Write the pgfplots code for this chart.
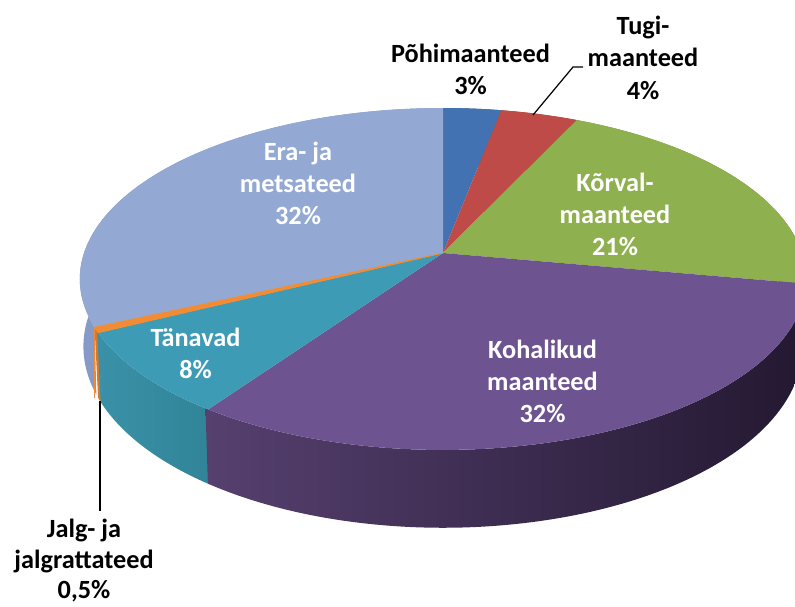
\documentclass[border=0pt]{standalone}
\usepackage{fontspec}
\setmainfont{Carlito}
\usepackage{pgfplots}
\usepackage{pgfplotstable}
\pgfplotsset{compat=1.18}

\pgfplotstableread{
name value
Pohimaanteed 3
Tugimaanteed 4
Korvalmaanteed 21
Kohalikud 32
Tanavad 8
Jalg 0.5
Era 32
}\datatable

\newcommand\getv[2]{\pgfplotstablegetelem{#1}{value}\of\datatable\edef#2{\pgfplotsretval}}%
\getv{0}\vA\getv{1}\vB\getv{2}\vC\getv{3}\vD\getv{4}\vE\getv{5}\vF\getv{6}\vG%
\pgfmathsetmacro\total{\vA+\vB+\vC+\vD+\vE+\vF+\vG}%
\pgfmathsetmacro\tA{90}%
\pgfmathsetmacro\tB{\tA-360*\vA/\total}%
\pgfmathsetmacro\tC{\tB-360*\vB/\total}%
\pgfmathsetmacro\tD{\tC-360*\vC/\total}%
\pgfmathsetmacro\tE{\tD-360*\vD/\total}%
\pgfmathsetmacro\tF{\tE-360*\vE/\total}%
\pgfmathsetmacro\tG{\tF-360*\vF/\total}%
\pgfmathsetmacro\tH{\tG-360*\vG/\total}%
\pgfmathsetmacro\tEx{\tE-0.5}%
\pgfmathsetmacro\tFx{\tF-0.5}%

\definecolor{pohi}{HTML}{4272B2}
\definecolor{tugi}{HTML}{BF4B48}
\definecolor{korval}{HTML}{8FB04E}
\definecolor{kohal}{HTML}{6E5391}
\definecolor{tanav}{HTML}{3D9BB6}
\definecolor{jalg}{HTML}{F28C34}
\definecolor{era}{HTML}{93A9D3}
\definecolor{pohiW}{HTML}{2F5586}
\definecolor{tugiW}{HTML}{8F3532}
\definecolor{korvalW}{HTML}{6A8438}
\definecolor{kohalWL}{HTML}{56406F}
\definecolor{kohalWR}{HTML}{231831}
\definecolor{tanavWL}{HTML}{3A91A7}
\definecolor{tanavWR}{HTML}{318498}
\definecolor{jalgW}{HTML}{D9772A}
\definecolor{eraW}{HTML}{8799C6}

\newcommand\labfont{\fontsize{26.3}{31}\selectfont\bfseries}

% side wall of a slice between angles #1 and #2
\newcommand\wall[3]{%
  \addplot[#3, draw=none, domain=0:2, samples=241, variable=\s]
    ({ifthenelse(\s<1.0001, tx((#1)+((#2)-(#1))*\s), bx((#2)-((#2)-(#1))*(\s-1)))},
     {ifthenelse(\s<1.0001, ty((#1)+((#2)-(#1))*\s), by((#2)-((#2)-(#1))*(\s-1)))}) -- cycle;}
% top face of a slice between angles #1 < #2
\newcommand\topface[3]{%
  \addplot[#3, domain=#1:#2, samples=120, variable=\t]
    ({tx(\t)},{ty(\t)}) -- (axis cs:443,253) -- cycle;}
\newcommand\lab[4]{\node[anchor=base, text=#4, font=\labfont, inner sep=0pt] at (axis cs:#1,#2) {#3};}

\begin{document}%
\begin{tikzpicture}
\useasboundingbox (0,0) rectangle (795pt,606pt);
\begin{axis}[at={(0,0)}, anchor=south west, scale only axis,
  width=795pt, height=606pt, xmin=0, xmax=795, ymin=0, ymax=606,
  y dir=reverse, hide axis, clip=true,
  declare function={
    pw(\t)=1+0.152*sin(\t);
    tx(\t)=443+359*cos(\t)/pw(\t);
    ty(\t)=253-167*sin(\t)/pw(\t);
    bx(\t)=443+0.99*(tx(\t)-443);
    by(\t)=ty(\t)+66/pw(\t);
  }]
% walls, back to front
\wall{\tB}{\tA}{fill=pohiW}
\wall{\tC}{\tB}{fill=tugiW}
\wall{\tD}{\tC}{fill=korvalW}
\wall{\tH}{\tG}{fill=eraW}
\wall{\tG}{\tF}{fill=jalgW}
\wall{\tFx}{\tE}{left color=tanavWL, right color=tanavWR}
\wall{\tEx}{\tD}{left color=kohalWL, right color=kohalWR}
\addplot[draw=jalg, line width=1.2pt, samples=2, domain=0:1, variable=\s]
  ({tx(\tG)}, {ty(\tG)+\s*66/pw(\tG)});
% top faces
\topface{\tB}{\tA}{fill=pohi, draw=none}
\topface{\tC}{\tB}{fill=tugi, draw=none}
\topface{\tD}{\tC}{fill=korval, draw=none}
\topface{\tE}{\tD}{fill=kohal, draw=none}
\topface{\tF}{\tE}{fill=tanav, draw=none}
\topface{\tH}{\tG}{fill=era, draw=none}
\topface{\tG}{\tF}{fill=jalg, draw=jalg, line width=0.8pt}
% leader lines
\draw[black, line width=1.2pt] (axis cs:533,115) -- (axis cs:573,67) -- (axis cs:583,67);
\draw[black, line width=1.2pt] (axis cs:100,401) -- (axis cs:100,511);
% labels
\lab{470.5}{62.5}{Põhimaanteed}{black}
\lab{470.5}{94}{3\%}{black}
\lab{643}{34}{Tugi-}{black}
\lab{643}{66.5}{maanteed}{black}
\lab{643}{99}{4\%}{black}
\lab{615}{191.7}{Kõrval-}{white}
\lab{615}{223}{maanteed}{white}
\lab{615}{255}{21\%}{white}
\lab{542.5}{358}{Kohalikud}{white}
\lab{542.5}{390}{maanteed}{white}
\lab{542.5}{422}{32\%}{white}
\lab{298}{160.5}{Era- ja}{white}
\lab{298}{192}{metsateed}{white}
\lab{298}{224.5}{32\%}{white}
\lab{195.5}{346.7}{Tänavad}{white}
\lab{195.5}{378.3}{8\%}{white}
\lab{84}{537}{Jalg- ja}{black}
\lab{84}{568}{jalgrattateed}{black}
\lab{84}{598.5}{0,5\%}{black}
\end{axis}
\end{tikzpicture}%
\end{document}
